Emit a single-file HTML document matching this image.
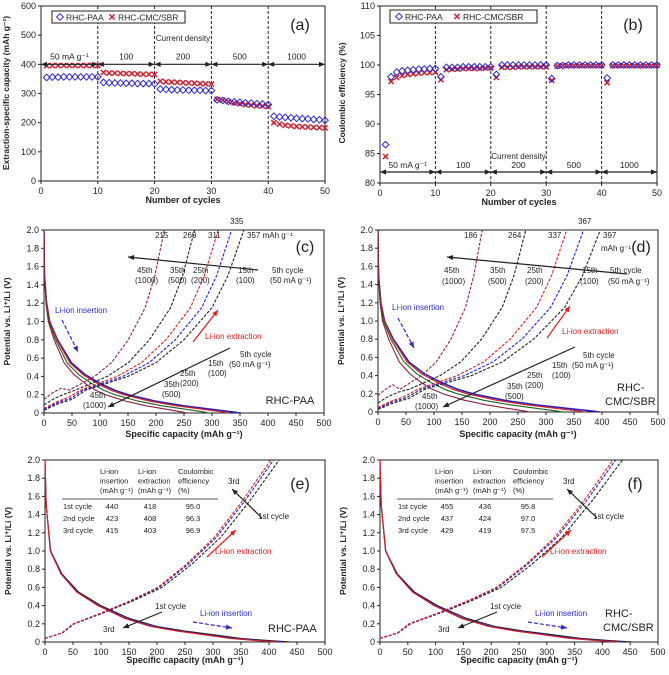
<!DOCTYPE html>
<html><head><meta charset="utf-8"><style>
html,body{margin:0;padding:0;background:#fff;}
svg{display:block;font-family:"Liberation Sans",Arial,sans-serif;}
</style></head><body>
<svg id="fig" width="669" height="675" viewBox="0 0 669 675" xmlns="http://www.w3.org/2000/svg"></svg>
<script>
// ---------- DATA ----------
const cycles = [1,2,3,4,5,6,7,8,9,10,11,12,13,14,15,16,17,18,19,20,21,22,23,24,25,26,27,28,29,30,31,32,33,34,35,36,37,38,39,40,41,42,43,44,45,46,47,48,49,50];
const capPAA = [355,356,356,357,357,357,357,357,357,357,338,337,336,336,335,335,334,334,334,333,315,314,313,312,312,311,311,311,310,310,278,276,273,271,270,268,267,265,264,262,222,220,218,217,215,214,213,211,210,208];
const capCMC = [395,396,396,396,396,396,396,396,396,396,372,370,370,369,368,368,367,366,366,365,342,340,339,338,337,336,335,334,333,332,280,277,272,268,265,262,260,258,257,255,200,195,191,189,187,186,185,184,183,182];
const cePAA = [86.5,98.0,98.8,99.0,99.1,99.2,99.3,99.3,99.4,99.4,98.0,99.6,99.6,99.6,99.7,99.7,99.7,99.7,99.7,99.7,98.4,100,100,100,100,100,100,100,100,100,97.7,99.9,99.9,100,100,100,100,100,100,100,97.8,100,100,100,100,100,100,100,100,100];
const ceCMC = [84.5,97.2,97.9,98.2,98.4,98.5,98.6,98.7,98.7,98.8,97.5,99.2,99.3,99.3,99.4,99.4,99.4,99.4,99.5,99.5,97.9,99.6,99.6,99.6,99.7,99.7,99.7,99.7,99.7,99.7,97.4,99.8,99.9,99.9,99.9,99.9,99.9,99.9,99.9,99.9,97.0,99.9,99.9,99.9,99.9,99.9,99.9,99.9,99.9,99.9];
const rateLabels = ["50 mA g\u207B\u00B9","100","200","500","1000"];
const insFrac = [0,0.003,0.014,0.03,0.07,0.14,0.21,0.29,0.36,0.43,0.57,0.71,0.86,0.97,1];
const insV    = [2.0,1.5,1.2,1.0,0.8,0.55,0.42,0.32,0.25,0.2,0.13,0.08,0.04,0.01,0];
const extFrac = [0,0.07,0.14,0.21,0.28,0.42,0.56,0.7,0.84,0.92,1];
const extV    = [0.03,0.1,0.15,0.25,0.3,0.4,0.55,0.8,1.15,1.5,2.0];
const capsC_ext = [357,335,311,269,215];
const capsC_ins = [352,345,330,295,255];
const extStartC = [0.03,0.04,0.05,0.09,0.15];
const capsD_ext = [397,367,337,264,186];
const capsD_ins = [398,390,370,330,270];
const extStartD = [0.03,0.04,0.05,0.1,0.18];
const extColors = ["#222","#2020d0","#e02020","#222","#902040"];
const insColors = ["#202080","#2020d0","#e02020","#206020","#902040"];
const capsE_ins = [440,423,415];
const capsE_ext = [418,408,403];
const capsF_ins = [455,437,429];
const capsF_ext = [436,424,419];
const cyc3Colors = ["#222","#2020d0","#e02020"];
const tickCap = [0,50,100,150,200,250,300,350,400,450,500];
const tickV = [0,0.2,0.4,0.6,0.8,1.0,1.2,1.4,1.6,1.8,2.0];

// ---------- HELPERS ----------
const NS="http://www.w3.org/2000/svg";
const svg=document.getElementById('fig');
function mk(tag,attrs,name,parent){
  const el=document.createElementNS(NS,tag);
  for(const k in attrs) el.setAttribute(k,attrs[k]);
  
  
  (parent||svg).appendChild(el);
  return el;
}
function txt(x,y,s,name,o){
  o=o||{};
  const t=mk('text',{x:x,y:y,'font-size':o.fs||9,fill:o.fill||'#222','text-anchor':o.anchor||'start','font-weight':o.fw||'normal'},name);
  if(o.rot) t.setAttribute('transform','rotate(-90 '+x+' '+y+')');
  t.textContent=s;
  return t;
}
function scale(d0,d1,r0,r1){return v=>r0+(v-d0)/(d1-d0)*(r1-r0);}
function frame(x0,y0,x1,y1,name){
  mk('rect',{x:x0,y:y0,width:x1-x0,height:y1-y0,fill:'none',stroke:'#222','stroke-width':1},name);
}
function xticks(ticks,sx,y,name){
  ticks.forEach(t=>{mk('line',{x1:sx(t),x2:sx(t),y1:y,y2:y+3,stroke:'#222'},name+'-tick');
    txt(sx(t),y+13,String(t),name+'-label',{anchor:'middle'});});
}
function yticks(ticks,sy,x,name,fmt){
  ticks.forEach(t=>{mk('line',{x1:x-3,x2:x,y1:sy(t),y2:sy(t),stroke:'#222'},name+'-tick');
    txt(x-5,sy(t)+3,fmt?fmt(t):String(t),name+'-label',{anchor:'end'});});
}
function arrow(x1,y1,x2,y2,color,name,dash){
  const a=mk('line',{x1:x1,y1:y1,x2:x2,y2:y2,stroke:color,'stroke-width':1.2},name);
  if(dash) a.setAttribute('stroke-dasharray','4,2');
  const ang=Math.atan2(y2-y1,x2-x1),L=6,W=2.6;
  const p=[[x2,y2],[x2-L*Math.cos(ang)+W*Math.sin(ang),y2-L*Math.sin(ang)-W*Math.cos(ang)],[x2-L*Math.cos(ang)-W*Math.sin(ang),y2-L*Math.sin(ang)+W*Math.cos(ang)]];
  mk('polygon',{points:p.map(q=>q.join(',')).join(' '),fill:color},name+'-head');
}
function dblArrow(x1,x2,y,name){
  arrow((x1+x2)/2,y,x1,y,'#222',name+'-left');
  arrow((x1+x2)/2,y,x2,y,'#222',name+'-right');
}
function diamond(x,y,name){mk('polygon',{points:`${x},${y-3.3} ${x+3.3},${y} ${x},${y+3.3} ${x-3.3},${y}`,fill:'none',stroke:'#2a2ad0','stroke-width':1},name);}
function cross(x,y,name){mk('path',{d:`M${x-2.6},${y-2.6}L${x+2.6},${y+2.6}M${x-2.6},${y+2.6}L${x+2.6},${y-2.6}`,stroke:'#d02030','stroke-width':1.5},name);}
function profile(frac,volt,cap,sx,sy,color,name,dash,v0){
  const pts=frac.map((f,i)=>{let v=volt[i];if(v0!==undefined&&i<3)v=Math.max(v,v0+(volt[i]-volt[0])*(i===0?0:1));return sx(f*cap).toFixed(1)+','+sy(v).toFixed(1);});
  const p=mk('polyline',{points:pts.join(' '),fill:'none',stroke:color,'stroke-width':1.1,'stroke-linejoin':'round'},name);
  if(dash) p.setAttribute('stroke-dasharray','3,1.5');
}
function clip(id,x0,y0,x1,y1){
  const c=mk('clipPath',{id:id},'clip');
  mk('rect',{x:x0,y:y0,width:x1-x0,height:y1-y0},'clip-rect',c);
  return 'url(#'+id+')';
}

// ---------- PANEL A ----------
(function(){
  const sx=scale(0,50,41,325), sy=scale(0,600,181,6);
  [10,20,30,40].forEach(c=>mk('line',{x1:sx(c),x2:sx(c),y1:6,y2:181,stroke:'#222','stroke-dasharray':'3,2'},'rate-divider'));
  frame(41,6,325,181,'panel-a-frame');
  xticks([0,10,20,30,40,50],sx,181,'a-x');
  yticks([0,100,200,300,400,500,600],sy,41,'a-y');
  txt(183,203,'Number of cycles','a-x-title',{anchor:'middle',fw:'bold',fs:9});
  txt(9,93,'Extraction-specific capacity (mAh g\u207B\u00B9)','a-y-title',{anchor:'middle',fw:'bold',fs:8.5,rot:true});
  cycles.forEach((c,i)=>{cross(sx(c),sy(capCMC[i]),'cmc-capacity-point');});
  cycles.forEach((c,i)=>{diamond(sx(c),sy(capPAA[i]),'paa-capacity-point');});
  for(let k=0;k<5;k++){dblArrow(sx(k*10),sx(k*10+10),sy(400),'a-rate-arrow');
    txt(sx(k*10+5),sy(400)-5,rateLabels[k],'a-rate-label',{anchor:'middle',fs:8.5});}
  txt(sx(25),41,'Current density','a-current-density',{anchor:'middle',fs:8});
  mk('rect',{x:52,y:11,width:133,height:12,fill:'#fff',stroke:'#222'},'a-legend-box');
  diamond(60,17,'legend-paa-marker');txt(66,20.5,'RHC-PAA','legend-paa',{fs:8.5});
  cross(112,17,'legend-cmc-marker');txt(118,20.5,'RHC-CMC/SBR','legend-cmc',{fs:8.5});
  txt(300,30,'(a)','panel-a-label',{fs:16,anchor:'middle'});
})();

// ---------- PANEL B ----------
(function(){
  const sx=scale(0,50,380,657), sy=scale(80,110,183,6);
  [10,20,30,40].forEach(c=>mk('line',{x1:sx(c),x2:sx(c),y1:6,y2:183,stroke:'#222','stroke-dasharray':'3,2'},'rate-divider'));
  frame(380,6,657,183,'panel-b-frame');
  xticks([0,10,20,30,40,50],sx,183,'b-x');
  yticks([80,85,90,95,100,105,110],sy,380,'b-y');
  txt(519,205,'Number of cycles','b-x-title',{anchor:'middle',fw:'bold',fs:9});
  txt(345,93,'Coulombic efficiency (%)','b-y-title',{anchor:'middle',fw:'bold',fs:8.5,rot:true});
  cycles.forEach((c,i)=>{cross(sx(c),sy(ceCMC[i]),'cmc-ce-point');});
  cycles.forEach((c,i)=>{diamond(sx(c),sy(cePAA[i]),'paa-ce-point');});
  for(let k=0;k<5;k++){dblArrow(sx(k*10),sx(k*10+10),172,'b-rate-arrow');
    txt(sx(k*10+5),168,rateLabels[k],'b-rate-label',{anchor:'middle',fs:8.5});}
  txt(sx(25),159,'Current density','b-current-density',{anchor:'middle',fs:8});
  mk('rect',{x:390,y:10,width:147,height:13,fill:'#fff',stroke:'#222'},'b-legend-box');
  diamond(399,16.5,'legend-paa-marker');txt(405,20,'RHC-PAA','legend-paa',{fs:8.5});
  cross(457,16.5,'legend-cmc-marker');txt(463,20,'RHC-CMC/SBR','legend-cmc',{fs:8.5});
  txt(633,30,'(b)','panel-b-label',{fs:16,anchor:'middle'});
})();

function vpanel(x0,y0,x1,y1,id,xt){
  const sx=scale(0,500,x0,x1), sy=scale(0,2,y1,y0);
  frame(x0,y0,x1,y1,'panel-'+id+'-frame');
  xticks(tickCap,sx,y1,id+'-x');
  yticks(tickV,sy,x0,id+'-y',v=>v===0?'0':v.toFixed(1));
  txt((x0+x1)/2,xt,'Specific capacity (mAh g\u207B\u00B9)',id+'-x-title',{anchor:'middle',fw:'bold',fs:9});
  txt(x0-34,(y0+y1)/2,'Potential vs. Li\u207A/Li (V)',id+'-y-title',{anchor:'middle',fw:'bold',fs:8.5,rot:true});
  return {sx,sy};
}

// ---------- PANEL C ----------
(function(){
  const {sx,sy}=vpanel(44,230,324,413,'c',437);
  const g=mk('g',{'clip-path':clip('clipc',44,230,324,413)},'c-curves');
  capsC_ins.forEach((c,i)=>{profile(insFrac,insV,c,sx,sy,insColors[i],'c-insertion-curve');});
  capsC_ext.forEach((c,i)=>{profile(extFrac,extV,c,sx,sy,extColors[i],'c-extraction-curve',true,extStartC[i]);});
  ['215','269','311'].forEach((s,i)=>txt([155,183,208][i],238,s,'c-cap-label',{fs:8}));
  txt(230,224,'335','c-cap-label',{fs:8});
  txt(247,238,'357 mAh g\u207B\u00B9','c-cap-label',{fs:8});
  txt(305,252,'(c)','panel-c-label',{fs:16,anchor:'middle'});
  arrow(258,270,128,257,'#222','c-cycle-arrow-upper');
  [['45th','(1000)',137],['35th','(500)',170],['25th','(200)',193],['15th','(100)',238],['5th cycle','(50 mA g\u207B\u00B9)',272]].forEach(a=>{
    txt(a[2],273,a[0],'c-cycle-label',{fs:8});txt(a[2]-2,283,a[1],'c-cycle-label',{fs:8});});
  txt(55,313,'Li-ion insertion','c-insertion-label',{fs:8,fill:'#2a2ad0'});
  arrow(62,320,78,352,'#2a2ad0','c-insertion-arrow',true);
  txt(205,339,'Li-ion extraction','c-extraction-label',{fs:8,fill:'#e02020'});
  arrow(193,342,218,310,'#e02020','c-extraction-arrow');
  arrow(230,348,108,407,'#222','c-cycle-arrow-lower');
  txt(240,357,'5th cycle','c-cycle-label',{fs:8});txt(229,367,'(50 mA g\u207B\u00B9)','c-cycle-label',{fs:8});
  txt(208,366,'15th','c-cycle-label',{fs:8});txt(208,376,'(100)','c-cycle-label',{fs:8});
  txt(180,376,'25th','c-cycle-label',{fs:8});txt(180,386,'(200)','c-cycle-label',{fs:8});
  txt(164,387,'35th','c-cycle-label',{fs:8});txt(162,397,'(500)','c-cycle-label',{fs:8});
  txt(90,398,'45th','c-cycle-label',{fs:8});txt(83,408,'(1000)','c-cycle-label',{fs:8});
  txt(290,404,'RHC-PAA','c-sample-label',{fs:11,anchor:'middle'});
})();

// ---------- PANEL D ----------
(function(){
  const {sx,sy}=vpanel(378,230,658,412,'d',437);
  const g=mk('g',{'clip-path':clip('clipd',378,230,658,412)},'d-curves');
  capsD_ins.forEach((c,i)=>{profile(insFrac,insV,c,sx,sy,insColors[i],'d-insertion-curve');});
  capsD_ext.forEach((c,i)=>{profile(extFrac,extV,c,sx,sy,extColors[i],'d-extraction-curve',true,extStartD[i]);});
  txt(464,238,'186','d-cap-label',{fs:8});txt(508,238,'264','d-cap-label',{fs:8});txt(548,238,'337','d-cap-label',{fs:8});
  txt(578,224,'367','d-cap-label',{fs:8});txt(603,238,'397','d-cap-label',{fs:8});txt(601,251,'mAh g\u207B\u00B9','d-cap-label',{fs:8});
  txt(641,252,'(d)','panel-d-label',{fs:16,anchor:'middle'});
  arrow(627,274,447,257,'#222','d-cycle-arrow-upper');
  [['45th','(1000)',444],['35th','(500)',490],['25th','(200)',527],['15th','(100)',582],['5th cycle','(50 mA g\u207B\u00B9)',610]].forEach(a=>{
    txt(a[2],273,a[0],'d-cycle-label',{fs:8});txt(a[2]-2,284,a[1],'d-cycle-label',{fs:8});});
  txt(392,310,'Li-ion insertion','d-insertion-label',{fs:8,fill:'#2a2ad0'});
  arrow(398,318,414,348,'#2a2ad0','d-insertion-arrow',true);
  txt(562,334,'Li-ion extraction','d-extraction-label',{fs:8,fill:'#e02020'});
  arrow(547,338,570,306,'#e02020','d-extraction-arrow');
  arrow(575,347,443,407,'#222','d-cycle-arrow-lower');
  txt(583,358,'5th cycle','d-cycle-label',{fs:8});txt(572,368,'(50 mA g\u207B\u00B9)','d-cycle-label',{fs:8});
  txt(552,368,'15th','d-cycle-label',{fs:8});txt(552,378,'(100)','d-cycle-label',{fs:8});
  txt(527,378,'25th','d-cycle-label',{fs:8});txt(525,388,'(200)','d-cycle-label',{fs:8});
  txt(507,389,'35th','d-cycle-label',{fs:8});txt(505,399,'(500)','d-cycle-label',{fs:8});
  txt(422,399,'45th','d-cycle-label',{fs:8});txt(415,409,'(1000)','d-cycle-label',{fs:8});
  txt(617,391,'RHC-','d-sample-label',{fs:11});txt(605,405,'CMC/SBR','d-sample-label',{fs:11});
})();

// ---------- PANELS E/F ----------
const insFracE = [0,0.005,0.023,0.068,0.136,0.227,0.341,0.455,0.568,0.682,0.795,0.909,1];
const insVE    = [2.0,1.5,1.0,0.75,0.55,0.4,0.26,0.17,0.12,0.08,0.04,0.015,0];
const extFracE = [0,0.075,0.125,0.25,0.375,0.5,0.625,0.75,0.875,1];
const extVE    = [0.04,0.1,0.2,0.32,0.45,0.6,0.85,1.15,1.55,2.0];
function cyclePanel(x0,id,insC,extC,tbl,sample){
  const x1=x0===45?325:658;
  const {sx,sy}=vpanel(x0,460,x1,642,id,663);
  const g=mk('g',{'clip-path':clip('clip'+id,x0,460,x1,642)},id+'-curves');
  insC.forEach((c,i)=>{profile(insFracE,insVE,c,sx,sy,cyc3Colors[i],id+'-insertion-curve');});
  extC.forEach((c,i)=>{profile(extFracE,extVE,c,sx,sy,cyc3Colors[i],id+'-extraction-curve',true);});
  const dx=x0-45;
  [['Li-ion','insertion','(mAh g\u207B\u00B9)',100],['Li-ion','extraction','(mAh g\u207B\u00B9)',138],['Coulombic','efficiency','(%)',178]].forEach(h=>{
    [0,1,2].forEach(k=>txt(h[3]+dx,474+k*9.5,h[k],id+'-table-header',{fs:7.5}));});
  mk('line',{x1:62+dx,x2:218+dx,y1:499,y2:499,stroke:'#222','stroke-width':0.8},id+'-table-rule');
  ['1st cycle','2nd cycle','3rd cycle'].forEach((r,k)=>{
    txt(63+dx,509+k*12,r,id+'-table-row-label',{fs:7.5});
    txt(112+dx,509+k*12,String(insC[k]),id+'-table-insertion',{fs:7.5,anchor:'middle'});
    txt(150+dx,509+k*12,String(extC[k]),id+'-table-extraction',{fs:7.5,anchor:'middle'});
    txt(193+dx,509+k*12,tbl[k],id+'-table-ce',{fs:7.5,anchor:'middle'});});
  txt(228+dx,484,'3rd',id+'-3rd-label',{fs:8});
  arrow(262+dx,518,232+dx,489,'#222',id+'-cycle-arrow-upper');
  txt(258+dx,519,'1st cycle',id+'-1st-label',{fs:8});
  txt(300+dx,489,'('+id+')','panel-'+id+'-label',{fs:16,anchor:'middle'});
  txt(215+dx,554,'Li-ion extraction',id+'-extraction-label',{fs:8,fill:'#e02020'});
  arrow(207+dx,557,236+dx,530,'#e02020',id+'-extraction-arrow');
  txt(155+dx,609,'1st cycle',id+'-1st-label',{fs:8});
  txt(103+dx,632,'3rd',id+'-3rd-label',{fs:8});
  arrow(162+dx,612,123+dx,628,'#222',id+'-cycle-arrow-lower');
  txt(200+dx,616,'Li-ion insertion',id+'-insertion-label',{fs:8,fill:'#2a2ad0'});
  arrow(193+dx,622,232+dx,628,'#2a2ad0',id+'-insertion-arrow',true);
  if(sample.length===1) txt(268+dx,632,sample[0],id+'-sample-label',{fs:11});
  else {txt(270+dx,617,sample[0],id+'-sample-label',{fs:11});txt(268+dx,631,sample[1],id+'-sample-label',{fs:11});}
}
cyclePanel(45,'e',capsE_ins,capsE_ext,['95.0','96.3','96.9'],['RHC-PAA']);
cyclePanel(380,'f',capsF_ins,capsF_ext,['95.8','97.0','97.5'],['RHC-','CMC/SBR']);
</script>
</body></html>
